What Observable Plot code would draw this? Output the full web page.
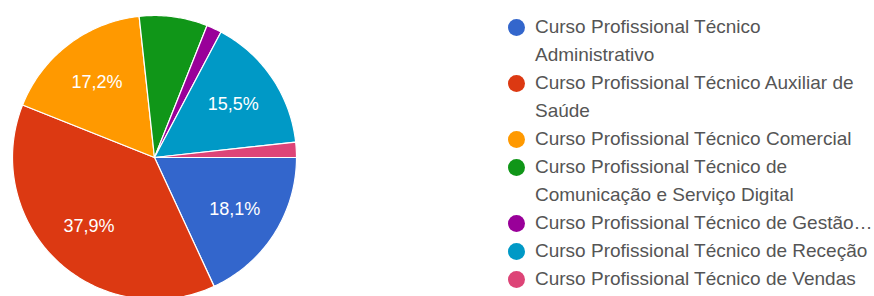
<!DOCTYPE html>
<html>
<head>
<meta charset="utf-8">
<script src="https://cdn.jsdelivr.net/npm/d3@7"></script>
<script src="https://cdn.jsdelivr.net/npm/@observablehq/plot@0.6"></script>
<style>
  html, body { margin: 0; padding: 0; background: #fff; }
  #wrap { position: relative; width: 874px; height: 296px; overflow: hidden; font-family: "Liberation Sans", Arial, sans-serif; }
  #wrap svg { position: absolute; left: 0; top: 0; }
  #legend { position: absolute; left: 508px; top: 13px; }
  .item { display: flex; align-items: flex-start; font-size: 19px; line-height: 28px; color: #555; }
  .sw { width: 17px; height: 17px; border-radius: 50%; margin-top: 5.5px; margin-right: 10px; flex: none; }
</style>
</head>
<body>
<div id="wrap"></div>
<script>
const categories = [
  "Curso Profissional Técnico Administrativo",
  "Curso Profissional Técnico Auxiliar de Saúde",
  "Curso Profissional Técnico Comercial",
  "Curso Profissional Técnico de Comunicação e Serviço Digital",
  "Curso Profissional Técnico de Gestão…",
  "Curso Profissional Técnico de Receção",
  "Curso Profissional Técnico de Vendas"
];
const legendLines = [
  ["Curso Profissional Técnico", "Administrativo"],
  ["Curso Profissional Técnico Auxiliar de", "Saúde"],
  ["Curso Profissional Técnico Comercial"],
  ["Curso Profissional Técnico de", "Comunicação e Serviço Digital"],
  ["Curso Profissional Técnico de Gestão…"],
  ["Curso Profissional Técnico de Receção"],
  ["Curso Profissional Técnico de Vendas"]
];
const counts = [21, 44, 20, 9, 2, 18, 2];
const colors = ["#3366cc", "#dc3912", "#ff9900", "#109618", "#990099", "#0099c6", "#dd4477"];

const total = d3.sum(counts);
const startAngle = Math.PI / 2; // 3 o'clock, clockwise
const pie = d3.pie().sort(null).startAngle(startAngle).endAngle(startAngle + 2 * Math.PI)(counts);

const slicePts = [];
pie.forEach((p, i) => {
  slicePts.push({k: categories[i], x: 0, y: 0});
  const n = Math.max(2, Math.ceil((p.endAngle - p.startAngle) / (Math.PI / 180)));
  for (let j = 0; j <= n; j++) {
    const a = p.startAngle + (p.endAngle - p.startAngle) * j / n;
    slicePts.push({k: categories[i], x: Math.sin(a), y: Math.cos(a)});
  }
  slicePts.push({k: categories[i], x: 0, y: 0});
});

const fmt = v => (v * 100).toFixed(1).replace(".", ",") + "%";
const labels = pie.map((p, i) => {
  const a = (p.startAngle + p.endAngle) / 2;
  return {k: categories[i], share: counts[i] / total, x: 0.67 * Math.sin(a), y: 0.67 * Math.cos(a)};
}).filter(d => d.share > 0.1);

const chart = Plot.plot({
  width: 874,
  height: 296,
  margin: 0,
  x: {domain: [-1, 1], range: [12, 296], axis: null},
  y: {domain: [-1, 1], range: [299, 15], axis: null},
  color: {domain: categories, range: colors},
  style: {fontFamily: "'Liberation Sans', Arial, sans-serif"},
  marks: [
    Plot.line(slicePts, {x: "x", y: "y", z: "k", fill: "k", stroke: "white", strokeWidth: 1.2, curve: "linear"}),
    Plot.text(labels, {x: "x", y: "y", text: d => fmt(d.share), fill: "white", fontSize: 18})
  ]
});
const wrap = document.getElementById("wrap");
wrap.appendChild(chart);

const legend = document.createElement("div");
legend.id = "legend";
legendLines.forEach((lines, i) => {
  const item = document.createElement("div");
  item.className = "item";
  const sw = document.createElement("div");
  sw.className = "sw";
  sw.style.background = colors[i];
  const t = document.createElement("div");
  t.innerHTML = lines.join("<br>");
  item.appendChild(sw);
  item.appendChild(t);
  legend.appendChild(item);
});
wrap.appendChild(legend);
</script>
</body>
</html>
